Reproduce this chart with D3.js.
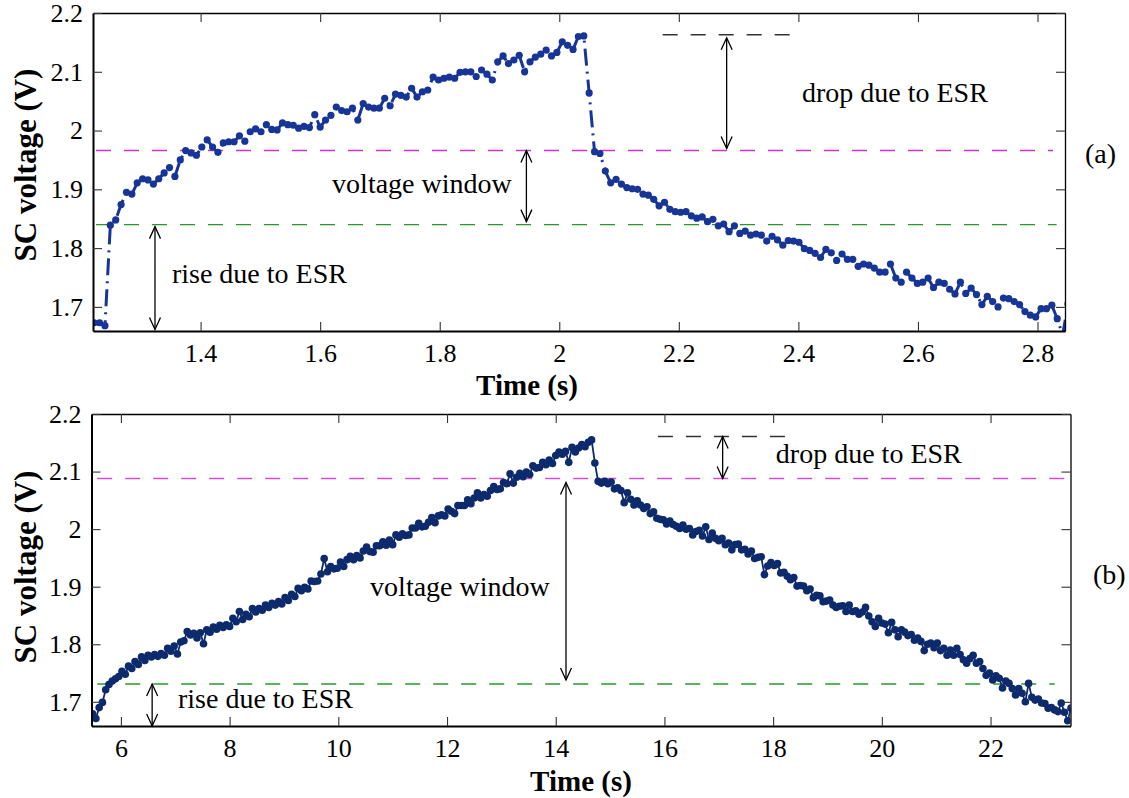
<!DOCTYPE html>
<html><head><meta charset="utf-8">
<script src="https://cdn.jsdelivr.net/npm/d3@7"></script>
<style>
body{margin:0;background:#fff}
svg{display:block}
text{font-family:"Liberation Serif","Times New Roman",Times,serif;fill:#000}
</style>
</head><body>
<svg id="chart" width="1129" height="798"></svg>
<script>
// ---------------- DATA ----------------
const topTime = [
1.222,1.231,1.240,1.249,1.258,1.267,1.276,1.285,1.294,1.303,
1.312,1.321,1.330,1.339,1.348,1.357,1.366,1.375,1.384,1.393,
1.402,1.411,1.420,1.429,1.438,1.447,1.456,1.465,1.474,1.483,
1.492,1.501,1.510,1.519,1.528,1.537,1.546,1.555,1.564,1.573,
1.582,1.591,1.600,1.609,1.618,1.627,1.636,1.645,1.654,1.663,
1.672,1.681,1.690,1.699,1.708,1.717,1.726,1.735,1.744,1.753,
1.762,1.771,1.780,1.789,1.798,1.807,1.816,1.825,1.834,1.843,
1.852,1.861,1.870,1.879,1.888,1.897,1.906,1.915,1.924,1.933,
1.942,1.951,1.960,1.969,1.978,1.987,1.996,2.005,2.014,2.023,
2.032,2.041,2.050,2.059,2.068,2.077,2.086,2.095,2.104,2.113,
2.122,2.131,2.140,2.149,2.158,2.167,2.176,2.185,2.194,2.203,
2.212,2.221,2.230,2.239,2.248,2.257,2.266,2.275,2.284,2.293,
2.302,2.311,2.320,2.329,2.338,2.347,2.356,2.365,2.374,2.383,
2.392,2.401,2.410,2.419,2.428,2.437,2.446,2.455,2.464,2.473,
2.482,2.491,2.500,2.509,2.518,2.527,2.536,2.545,2.554,2.563,
2.572,2.581,2.590,2.599,2.608,2.617,2.626,2.635,2.644,2.653,
2.662,2.671,2.680,2.689,2.698,2.707,2.716,2.725,2.734,2.743,
2.752,2.761,2.770,2.779,2.788,2.797,2.806,2.815,2.824,2.833,
2.842,2.851];
const topVolt = [
1.673,1.673,1.668,1.839,1.848,1.874,1.895,1.892,1.911,1.918,
1.916,1.909,1.918,1.928,1.937,1.922,1.950,1.966,1.962,1.958,
1.972,1.984,1.972,1.963,1.979,1.981,1.981,1.991,1.982,1.998,
2.003,1.998,2.010,2.002,2.001,2.013,2.010,2.009,2.004,2.007,
2.005,2.027,2.006,2.018,2.026,2.040,2.034,2.032,2.038,2.018,
2.046,2.040,2.038,2.038,2.055,2.042,2.062,2.060,2.057,2.072,
2.057,2.066,2.069,2.091,2.086,2.089,2.091,2.089,2.099,2.100,
2.100,2.092,2.103,2.096,2.086,2.117,2.127,2.114,2.120,2.128,
2.100,2.117,2.125,2.130,2.137,2.127,2.133,2.151,2.145,2.138,
2.160,2.161,2.064,1.964,1.961,1.931,1.911,1.917,1.909,1.903,
1.901,1.900,1.892,1.890,1.883,1.872,1.878,1.866,1.862,1.861,
1.862,1.855,1.851,1.853,1.845,1.849,1.838,1.841,1.828,1.838,
1.825,1.829,1.822,1.824,1.822,1.812,1.820,1.814,1.805,1.813,
1.812,1.810,1.799,1.796,1.791,1.784,1.798,1.792,1.779,1.790,
1.781,1.781,1.769,1.773,1.771,1.766,1.759,1.759,1.773,1.749,
1.742,1.759,1.749,1.740,1.742,1.749,1.733,1.742,1.740,1.730,
1.722,1.742,1.723,1.732,1.721,1.704,1.718,1.709,1.700,1.715,
1.714,1.709,1.704,1.692,1.686,1.683,1.697,1.697,1.703,1.680,
1.652,1.705];

const botTime = [
5.48,5.54,5.60,5.66,5.72,5.78,5.84,5.90,5.96,6.02,
6.08,6.14,6.20,6.26,6.32,6.38,6.44,6.50,6.56,6.62,
6.68,6.74,6.80,6.86,6.92,6.98,7.04,7.10,7.16,7.22,
7.28,7.34,7.40,7.46,7.52,7.58,7.64,7.70,7.76,7.82,
7.88,7.94,8.00,8.06,8.12,8.18,8.24,8.30,8.36,8.42,
8.48,8.54,8.60,8.66,8.72,8.78,8.84,8.90,8.96,9.02,
9.08,9.14,9.20,9.26,9.32,9.38,9.44,9.50,9.56,9.62,
9.68,9.74,9.80,9.86,9.92,9.98,10.04,10.10,10.16,10.22,
10.28,10.34,10.40,10.46,10.52,10.58,10.64,10.70,10.76,10.82,
10.88,10.94,11.00,11.06,11.12,11.18,11.24,11.30,11.36,11.42,
11.48,11.54,11.60,11.66,11.72,11.78,11.84,11.90,11.96,12.02,
12.08,12.14,12.20,12.26,12.32,12.38,12.44,12.50,12.56,12.62,
12.68,12.74,12.80,12.86,12.92,12.98,13.04,13.10,13.16,13.22,
13.28,13.34,13.40,13.46,13.52,13.58,13.64,13.70,13.76,13.82,
13.88,13.94,14.00,14.06,14.12,14.18,14.24,14.30,14.36,14.42,
14.48,14.54,14.60,14.66,
14.72,14.78,14.84,14.90,14.96,15.02,15.08,15.14,15.20,15.26,
15.32,15.38,15.44,15.50,15.56,15.62,15.68,15.74,15.80,15.86,
15.92,15.98,16.04,16.10,16.16,16.22,16.28,16.34,16.40,16.46,
16.52,16.58,16.64,16.70,16.76,16.82,16.88,16.94,17.00,17.06,
17.12,17.18,17.24,17.30,17.36,17.42,17.48,17.54,17.60,17.66,
17.72,17.78,17.84,17.90,17.96,18.02,18.08,18.14,18.20,18.26,
18.32,18.38,18.44,18.50,18.56,18.62,18.68,18.74,18.80,18.86,
18.92,18.98,19.04,19.10,19.16,19.22,19.28,19.34,19.40,19.46,
19.52,19.58,19.64,19.70,19.76,19.82,19.88,19.94,20.00,20.06,
20.12,20.18,20.24,20.30,20.36,20.42,20.48,20.54,20.60,20.66,
20.72,20.78,20.84,20.90,20.96,21.02,21.08,21.14,21.20,21.26,
21.32,21.38,21.44,21.50,21.56,21.62,21.68,21.74,21.80,21.86,
21.92,21.98,22.04,22.10,22.16,22.22,22.28,22.34,22.40,22.46,
22.52,22.58,22.64,22.70,22.76,22.82,22.88,22.94,23.00,23.06,
23.12,23.18,23.24,23.30,23.36,23.42,23.48];
const botVolt = [
1.679,1.671,1.690,1.699,1.721,1.730,1.736,1.740,1.744,1.753,
1.748,1.762,1.758,1.770,1.765,1.778,1.772,1.781,1.778,1.782,
1.779,1.784,1.781,1.793,1.788,1.797,1.783,1.804,1.806,1.822,
1.816,1.819,1.811,1.820,1.801,1.825,1.821,1.830,1.826,1.833,
1.829,1.834,1.831,1.845,1.839,1.857,1.843,1.852,1.848,1.862,
1.856,1.862,1.859,1.868,1.864,1.871,1.868,1.874,1.870,1.881,
1.876,1.887,1.883,1.897,1.893,1.899,1.896,1.910,1.909,1.910,
1.922,1.949,1.926,1.935,1.931,1.932,1.943,1.935,1.947,1.953,
1.947,1.954,1.950,1.962,1.969,1.961,1.960,1.971,1.971,1.978,
1.972,1.981,1.973,1.990,1.986,1.992,1.989,1.990,2.002,2.002,
2.010,2.004,2.005,2.012,2.020,2.011,2.023,2.025,2.023,2.035,
2.031,2.027,2.041,2.041,2.041,2.051,2.044,2.054,2.063,2.054,
2.060,2.057,2.067,2.074,2.069,2.070,2.081,2.079,2.096,2.080,
2.090,2.097,2.091,2.099,2.095,2.110,2.106,2.107,2.116,2.112,
2.120,2.114,2.128,2.134,2.130,2.135,2.116,2.142,2.134,2.141,
2.147,2.143,2.151,2.155,
2.115,2.083,2.080,2.083,2.079,2.082,2.070,2.072,2.067,2.046,
2.063,2.052,2.042,2.049,2.042,2.036,2.039,2.027,2.030,2.019,
2.017,2.016,2.009,2.014,2.008,2.005,2.001,2.007,2.000,2.001,
1.990,1.996,1.998,1.988,2.004,1.982,1.993,1.984,1.980,1.984,
1.973,1.976,1.964,1.973,1.974,1.964,1.965,1.957,1.962,1.949,
1.951,1.952,1.921,1.936,1.942,1.937,1.940,1.924,1.925,1.918,
1.912,1.916,1.901,1.902,1.901,1.893,1.896,1.881,1.885,1.884,
1.874,1.875,1.877,1.868,1.864,1.866,1.867,1.857,1.868,1.857,
1.858,1.852,1.856,1.864,1.849,1.839,1.831,1.845,1.837,1.835,
1.820,1.838,1.825,1.813,1.825,1.821,1.815,1.817,1.807,1.811,
1.805,1.789,1.800,1.802,1.794,1.802,1.789,1.793,1.781,1.790,
1.781,1.793,1.782,1.773,1.767,1.775,1.781,1.767,1.770,1.758,
1.746,1.750,1.738,1.745,1.741,1.724,1.736,1.732,1.723,1.712,
1.723,1.715,1.700,1.732,1.708,1.703,1.705,1.698,1.697,1.689,
1.690,1.686,1.683,1.698,1.682,1.667,1.689];

const yTicks = [1.7, 1.8, 1.9, 2.0, 2.1, 2.2];
const topXTicks = [1.4, 1.6, 1.8, 2.0, 2.2, 2.4, 2.6, 2.8];
const botXTicks = [6, 8, 10, 12, 14, 16, 18, 20, 22];

// reference levels: [value, from time, to time]
const topGreen = [1.840, 1.225, 2.832];
const topMagenta = [1.966, 1.225, 2.826];
const topEsr = [2.163, 2.173, 2.389];
const botGreen = [1.731, 5.564, 23.18];
const botMagenta = [2.088, 5.564, 23.42];
const botEsr = [2.161, 15.88, 18.22];

const labels = ["rise due to ESR", "voltage window", "drop due to ESR"];

// ---------------- DRAW ----------------
const svg = d3.select("#chart");
const fmt = d => String(+(+d).toFixed(1));

function arrow(g, xp, ya, yb) {
  g.append("line").attr("x1", xp).attr("x2", xp).attr("y1", ya).attr("y2", yb)
    .attr("stroke", "#000").attr("stroke-width", 1.3);
  g.append("path").attr("d", `M${xp-5.5},${ya+12}L${xp},${ya}L${xp+5.5},${ya+12}`)
    .attr("fill", "none").attr("stroke", "#000").attr("stroke-width", 1.3);
  g.append("path").attr("d", `M${xp-5.5},${yb-12}L${xp},${yb}L${xp+5.5},${yb-12}`)
    .attr("fill", "none").attr("stroke", "#000").attr("stroke-width", 1.3);
}

function panel(o) {
  const x = d3.scaleLinear().domain(o.xDomain).range([o.L, o.R]);
  const y = d3.scaleLinear().domain(o.yDomain).range([o.B, o.T]);
  const g = svg.append("g");
  g.append("defs").append("clipPath").attr("id", "clip" + o.id)
    .append("rect").attr("x", o.L).attr("y", o.T).attr("width", o.R - o.L).attr("height", o.B - o.T);

  const lv = g.append("g");
  o.levels.forEach(([lvl, col]) => {
    lv.append("line").attr("x1", x(lvl[1])).attr("x2", x(lvl[2]))
      .attr("y1", y(lvl[0])).attr("y2", y(lvl[0]))
      .attr("stroke", col).attr("stroke-width", 1.4).attr("stroke-dasharray", "15,13");
  });

  const data = o.t.map((t, i) => [t, o.v[i]]);
  const sg = g.append("g").attr("clip-path", `url(#clip${o.id})`);
  sg.append("path").datum(data)
    .attr("d", d3.line().x(d => x(d[0])).y(d => y(d[1])))
    .attr("fill", "none").attr("stroke", o.color).attr("stroke-width", o.lw)
    .attr("stroke-dasharray", o.dash);
  sg.selectAll("circle").data(data).join("circle")
    .attr("cx", d => x(d[0])).attr("cy", d => y(d[1])).attr("r", o.r).attr("fill", o.color);

  const ag = g.append("g");
  o.arrows.forEach(a => arrow(ag, x(a[0]), y(a[1]) + a[3], y(a[2]) - a[4]));

  o.texts.forEach(tx => {
    g.append("text").attr("x", x(tx[1])).attr("y", y(tx[2])).attr("font-size", 28).text(tx[0]);
  });
  g.append("text").attr("x", o.tag[1]).attr("y", o.tag[2]).attr("font-size", 28).text(o.tag[0]);

  const tickCol = "#333";
  const ax = g.append("g").attr("transform", `translate(0,${o.B})`)
    .call(d3.axisBottom(x).tickValues(o.xTicks).tickFormat(fmt).tickSizeInner(-9).tickSizeOuter(0).tickPadding(13));
  const axT = g.append("g").attr("transform", `translate(0,${o.T})`)
    .call(d3.axisTop(x).tickValues(o.xTicks).tickFormat("").tickSizeInner(-9).tickSizeOuter(0));
  const ay = g.append("g").attr("transform", `translate(${o.L},0)`)
    .call(d3.axisLeft(y).tickValues(yTicks).tickFormat(fmt).tickSizeInner(-9).tickSizeOuter(0).tickPadding(10));
  const ayR = g.append("g").attr("transform", `translate(${o.R},0)`)
    .call(d3.axisRight(y).tickValues(yTicks).tickFormat("").tickSizeInner(-9).tickSizeOuter(0));
  [ax, axT, ay, ayR].forEach(a => {
    a.selectAll(".tick line").attr("stroke", tickCol).attr("stroke-width", 1.1);
    a.selectAll("text").attr("font-size", 26).attr("fill", "#000")
      .attr("font-family", '"Liberation Serif","Times New Roman",serif');
  });
  ax.select(".domain").attr("stroke", "#000").attr("stroke-width", 2.2);
  ay.select(".domain").attr("stroke", "#000").attr("stroke-width", 2);
  axT.select(".domain").attr("stroke", "#000").attr("stroke-width", 1.3);
  ayR.select(".domain").attr("stroke", "#000").attr("stroke-width", 1.3);

  g.append("text").attr("x", o.xTitle[0]).attr("y", o.xTitle[1]).attr("text-anchor", "middle")
    .attr("font-size", 29).attr("font-weight", "bold").text("Time (s)");
  g.append("text").attr("transform", `translate(${o.yTitle[0]},${o.yTitle[1]}) rotate(-90)`)
    .attr("text-anchor", "middle").attr("font-size", 31).attr("font-weight", "bold").text("SC voltage (V)");
}

panel({
  id: "a", L: 93, R: 1065, T: 13, B: 331,
  xDomain: [1.22, 2.846], yDomain: [1.659, 2.2],
  t: topTime, v: topVolt, color: "#173597", lw: 3, dash: "17,6,2,6", r: 3.6,
  xTicks: topXTicks,
  levels: [[topMagenta, "#cc33cc"], [topGreen, "#2a962a"], [topEsr, "#333"]],
  arrows: [[1.3237, topGreen[0], 1.659, 2, 1.5], [1.945, topMagenta[0], topGreen[0], 0, 3], [2.280, topEsr[0], topMagenta[0], 3, 2]],
  texts: [[labels[0], 1.352, 1.740], [labels[1], 1.620, 1.893], [labels[2], 2.406, 2.048]],
  tag: ["(a)", 1085, 163],
  xTitle: [527, 395], yTitle: [36, 165]
});

panel({
  id: "b", L: 91.5, R: 1070.5, T: 414, B: 726,
  xDomain: [5.459, 23.471], yDomain: [1.658, 2.2],
  t: botTime, v: botVolt, color: "#0c2a6c", lw: 1.8, dash: null, r: 3.8,
  xTicks: botXTicks,
  levels: [[botMagenta, "#d24fd2"], [botGreen, "#2a9a2a"], [botEsr, "#333"]],
  arrows: [[6.575, botGreen[0], 1.658, 0, 0], [14.189, botMagenta[0], botGreen[0], 4, 4], [17.071, botEsr[0], botMagenta[0], 0, 0]],
  texts: [[labels[0], 7.05, 1.689], [labels[1], 10.585, 1.884], [labels[2], 18.05, 2.115]],
  tag: ["(b)", 1093, 584],
  xTitle: [581, 791], yTitle: [36, 567]
});
</script>
</body></html>
